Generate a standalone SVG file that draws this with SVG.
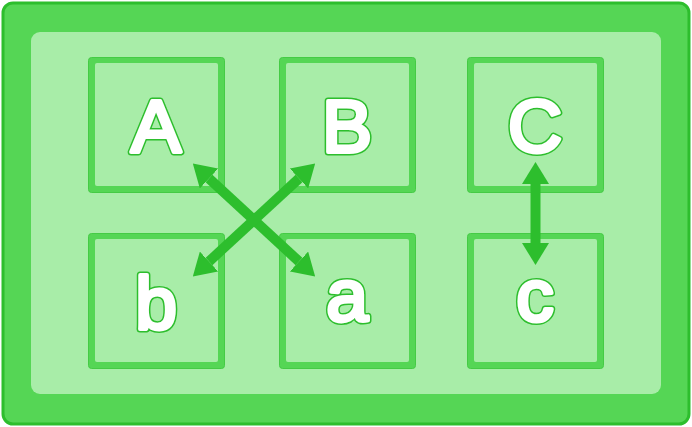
<svg xmlns="http://www.w3.org/2000/svg" width="692" height="427" viewBox="0 0 692 427">
<style>
.frame{fill:#55d655;stroke:#2dbe2d;stroke-width:3}
.panel{fill:#a8eda8}
.box{fill:#55d655;stroke:#45cb45;stroke-width:1}
.boxin{fill:#a8eda8}
.lo{font-family:"Liberation Sans",Arial,sans-serif;font-size:75px;text-anchor:middle;fill:#2dbe2d;stroke:#2dbe2d;stroke-width:7;stroke-linejoin:round;stroke-linecap:round}
.li{font-family:"Liberation Sans",Arial,sans-serif;font-size:75px;text-anchor:middle;fill:#fff;stroke:#fff;stroke-width:4;stroke-linejoin:round;stroke-linecap:round}
.arr{stroke:#2dbe2d;stroke-width:10;fill:none;marker-start:url(#head);marker-end:url(#head)}
</style>
<defs>
<marker id="head" markerUnits="userSpaceOnUse" markerWidth="22" markerHeight="27" viewBox="0 0 22 27" refX="0" refY="13.5" orient="auto-start-reverse">
<path d="M0,0 L22,13.5 L0,27 Z" fill="#2dbe2d"/>
</marker>
</defs>
<rect class="frame" x="3" y="3" width="686" height="421" rx="10"/>
<rect class="panel" x="31" y="32" width="630" height="362" rx="9"/>
<g id="node-A" transform="translate(88,57)">
<rect class="box" x="0.5" y="0.5" width="136" height="135" rx="3"/>
<rect class="boxin" x="7" y="6" width="123" height="123" rx="2"/>
<text class="lo" x="68" y="95">A</text><text class="li" x="68" y="95">A</text>
</g>
<g id="node-B" transform="translate(279,57)">
<rect class="box" x="0.5" y="0.5" width="136" height="135" rx="3"/>
<rect class="boxin" x="7" y="6" width="123" height="123" rx="2"/>
<text class="lo" x="68" y="95">B</text><text class="li" x="68" y="95">B</text>
</g>
<g id="node-C" transform="translate(467,57)">
<rect class="box" x="0.5" y="0.5" width="136" height="135" rx="3"/>
<rect class="boxin" x="7" y="6" width="123" height="123" rx="2"/>
<text class="lo" x="68" y="95">C</text><text class="li" x="68" y="95">C</text>
</g>
<g id="node-b" transform="translate(88,233)">
<rect class="box" x="0.5" y="0.5" width="136" height="135" rx="3"/>
<rect class="boxin" x="7" y="6" width="123" height="123" rx="2"/>
<text class="lo" x="68" y="95.5">b</text><text class="li" x="68" y="95.5">b</text>
</g>
<g id="node-a" transform="translate(279,233)">
<rect class="box" x="0.5" y="0.5" width="136" height="135" rx="3"/>
<rect class="boxin" x="7" y="6" width="123" height="123" rx="2"/>
<text class="lo" x="68" y="88">a</text><text class="li" x="68" y="88">a</text>
</g>
<g id="node-c" transform="translate(467,233)">
<rect class="box" x="0.5" y="0.5" width="136" height="135" rx="3"/>
<rect class="boxin" x="7" y="6" width="123" height="123" rx="2"/>
<text class="lo" x="68" y="88">c</text><text class="li" x="68" y="88">c</text>
</g>
<g id="connectors">
<line class="arr" x1="209" y1="178.5" x2="299" y2="261.5"/>
<line class="arr" x1="299" y1="178.5" x2="209" y2="261.5"/>
<line class="arr" x1="535.5" y1="184" x2="535.5" y2="243"/>
</g>
</svg>
